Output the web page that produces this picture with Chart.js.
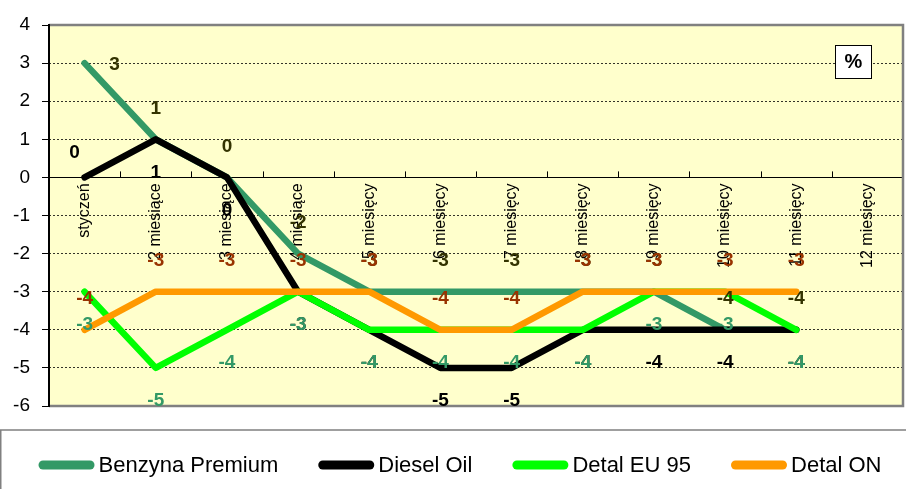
<!DOCTYPE html>
<html>
<head>
<meta charset="utf-8">
<script src="https://cdn.jsdelivr.net/npm/chart.js@4.4.1/dist/chart.umd.min.js"></script>
<style>
    html, body { margin: 0; padding: 0; background: #fff; }
    #wrap { width: 906px; height: 489px; }
</style>
</head>
<body>
<div id="wrap"><canvas id="chart" width="906" height="489"></canvas></div>
<script>
// --- Data ---
const categories = ['styczeń', '2 miesiące', '3 miesiące', '4 miesiące', '5 miesięcy', '6 miesięcy',
    '7 miesięcy', '8 miesięcy', '9 miesięcy', '10 miesięcy', '11 miesięcy', '12 miesięcy'];
const benzynaPremium = [3, 1, 0, -2, -3, -3, -3, -3, -3, -4, -4, null];
const dieselOil = [0, 1, 0, -3, -4, -5, -5, -4, -4, -4, -4, null];
const detalEU95 = [-3, -5, -4, -3, -4, -4, -4, -4, -3, -3, -4, null];
const detalON = [-4, -3, -3, -3, -3, -4, -4, -3, -3, -3, -3, null];
const yMin = -6;
const yMax = 4;
const unitLabel = '%';

const FONT = '"Liberation Sans", Arial, sans-serif';

// label placement per dataset: 'above' | 'below' | 'right' | 'aboveLeft'
const labelOffsets = {
    above: [0, -31],
    below: [0, 33],
    right: [30, 2],
    aboveLeft: [-10, -25]
};

function makeSet(label, data, color, labelColor, order, firstPos, restPos) {
    return {
        label: label,
        data: data,
        borderColor: color,
        backgroundColor: color,
        borderWidth: 6.5,
        borderCapStyle: 'round',
        borderJoinStyle: 'round',
        pointRadius: 0,
        pointHoverRadius: 0,
        tension: 0,
        fill: false,
        order: order,
        labelColor: labelColor,
        labelPos: data.map((v, i) => i === 0 ? firstPos : restPos)
    };
}

const datasets = [
    makeSet('Benzyna Premium', benzynaPremium, '#339966', '#333300', 4, 'right', 'above'),
    makeSet('Diesel Oil', dieselOil, '#000000', '#000000', 3, 'aboveLeft', 'below'),
    makeSet('Detal EU 95', detalEU95, '#00FF00', '#339966', 2, 'below', 'below'),
    makeSet('Detal ON', detalON, '#FF9900', '#993300', 1, 'above', 'above')
];

// --- Plugins ---
const backdrop = {
    id: 'backdrop',
    beforeDraw(chart) {
        const { ctx, chartArea: a } = chart;
        ctx.save();
        ctx.fillStyle = '#ffffff';
        ctx.fillRect(0, 0, chart.width, chart.height);
        ctx.fillStyle = '#FFFFCC';
        ctx.fillRect(a.left, a.top, a.right - a.left, a.bottom - a.top);
        ctx.restore();
    },
    beforeDatasetsDraw(chart) {
        const { ctx, chartArea: a, scales } = chart;
        ctx.save();
        // plot frame (top / right / bottom)
        ctx.strokeStyle = '#808080';
        ctx.lineWidth = 2.5;
        ctx.beginPath();
        ctx.moveTo(a.left, a.top);
        ctx.lineTo(a.right, a.top);
        ctx.lineTo(a.right, a.bottom);
        ctx.lineTo(a.left, a.bottom);
        ctx.stroke();
        // inner tick marks of the category axis, at category boundaries
        const x = scales.x;
        const y0 = scales.y.getPixelForValue(0);
        const half = (x.getPixelForValue(1) - x.getPixelForValue(0)) / 2;
        ctx.strokeStyle = '#000';
        ctx.lineWidth = 1;
        ctx.beginPath();
        for (let i = 1; i < categories.length; i++) {
            const px = Math.round(x.getPixelForValue(i) - half) + 0.5;
            ctx.moveTo(px, y0);
            ctx.lineTo(px, y0 - 6);
        }
        ctx.stroke();
        // left axis line
        ctx.lineWidth = 2;
        ctx.beginPath();
        ctx.moveTo(a.left, a.top - 1);
        ctx.lineTo(a.left, a.bottom + 1);
        ctx.stroke();
        ctx.restore();
    }
};

const pointLabels = {
    id: 'pointLabels',
    afterDatasetsDraw(chart) {
        const { ctx } = chart;
        ctx.save();
        ctx.font = 'bold 19px ' + FONT;
        ctx.textAlign = 'center';
        ctx.textBaseline = 'middle';
        chart.data.datasets.forEach((ds, di) => {
            const meta = chart.getDatasetMeta(di);
            meta.data.forEach((pt, i) => {
                const v = ds.data[i];
                if (v === null || v === undefined) return;
                const off = labelOffsets[ds.labelPos[i]];
                ctx.fillStyle = ds.labelColor;
                ctx.fillText(String(v), pt.x + off[0], pt.y + off[1]);
            });
        });
        ctx.restore();
    }
};

const extras = {
    id: 'extras',
    afterDraw(chart) {
        const { ctx, chartArea: a } = chart;
        ctx.save();
        // unit box
        const bx = a.right - 68, by = a.top + 20, bw = 36, bh = 33;
        ctx.fillStyle = '#fff';
        ctx.fillRect(bx, by, bw, bh);
        ctx.strokeStyle = '#000';
        ctx.lineWidth = 1;
        ctx.strokeRect(bx + 0.5, by + 0.5, bw, bh);
        ctx.fillStyle = '#000';
        ctx.font = 'bold 20px ' + FONT;
        ctx.textAlign = 'center';
        ctx.textBaseline = 'middle';
        ctx.fillText(unitLabel, bx + bw / 2 + 0.5, by + bh / 2 + 1);

        // legend box
        const ly = 430;
        ctx.strokeStyle = '#808080';
        ctx.lineWidth = 1.5;
        ctx.beginPath();
        ctx.moveTo(0.75, chart.height);
        ctx.lineTo(0.75, ly);
        ctx.lineTo(chart.width, ly);
        ctx.stroke();

        // legend items
        ctx.font = '22px ' + FONT;
        ctx.textAlign = 'left';
        const boxW = 56, boxH = 9, gapText = 4, gapItem = 40;
        const widths = chart.data.datasets.map(ds => boxW + gapText + ctx.measureText(ds.label).width);
        const total = widths.reduce((s, w) => s + w, 0) + gapItem * (widths.length - 1);
        let lx = 460 - total / 2;
        const cy = 465;
        chart.data.datasets.forEach((ds, i) => {
            ctx.fillStyle = ds.borderColor;
            ctx.beginPath();
            ctx.roundRect(lx, cy - boxH / 2, boxW, boxH, boxH / 2);
            ctx.fill();
            ctx.fillStyle = '#000';
            ctx.fillText(ds.label, lx + boxW + gapText, cy + 1);
            lx += widths[i] + gapItem;
        });
        ctx.restore();
    }
};

// --- Chart ---
const ctx = document.getElementById('chart').getContext('2d');
new Chart(ctx, {
    type: 'line',
    data: { labels: categories, datasets: datasets },
    options: {
        responsive: false,
        animation: false,
        devicePixelRatio: 1,
        layout: { padding: { top: 25, right: 3, bottom: 83, left: 0 } },
        plugins: {
            legend: { display: false },
            title: { display: false },
            tooltip: { enabled: false }
        },
        scales: {
            x: {
                type: 'category',
                position: { y: 0 },
                offset: true,
                afterFit: s => { s.height = 0; },
                grid: { display: false, drawTicks: false },
                border: { display: true, color: '#000', width: 1 },
                ticks: {
                    autoSkip: false,
                    minRotation: 90,
                    maxRotation: 90,
                    padding: 6,
                    color: '#000',
                    font: { family: FONT, size: 16 }
                }
            },
            y: {
                min: yMin,
                max: yMax,
                afterFit: s => { s.width = 49; },
                ticks: {
                    stepSize: 1,
                    padding: 12,
                    color: '#000',
                    font: { family: FONT, size: 19 }
                },
                grid: {
                    color: 'rgba(0,0,0,0.8)',
                    lineWidth: 1,
                    tickLength: 7,
                    tickColor: '#000',
                    tickBorderDash: [],
                    tickWidth: 1
                },
                border: { display: false, dash: [2, 2] }
            }
        }
    },
    plugins: [backdrop, pointLabels, extras]
});
</script>
</body>
</html>
